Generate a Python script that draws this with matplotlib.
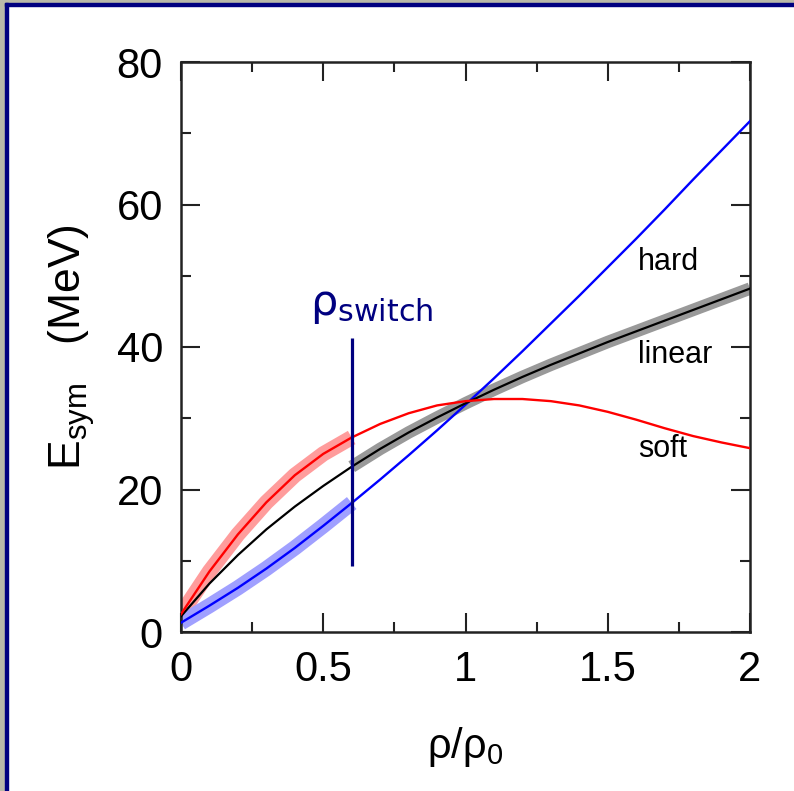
import matplotlib.pyplot as plt
from matplotlib.patches import Rectangle
from matplotlib.ticker import MultipleLocator

plt.rcParams['font.family'] = ['Liberation Sans', 'DejaVu Sans']
plt.rcParams['mathtext.default'] = 'regular'

# symmetry energy vs density for three stiffness choices
rho = [0.0, 0.1, 0.2, 0.3, 0.4, 0.5, 0.6, 0.7, 0.8, 0.9, 1.0,
       1.1, 1.2, 1.3, 1.4, 1.5, 1.6, 1.7, 1.8, 1.9, 2.0]
e_soft = [2.5, 8.5, 13.7, 18.2, 22.0, 25.0, 27.3, 29.2, 30.7, 31.8, 32.4,
          32.7, 32.7, 32.4, 31.8, 30.9, 29.8, 28.6, 27.5, 26.6, 25.8]
e_linear = [2.2, 6.8, 10.8, 14.4, 17.6, 20.5, 23.2, 25.7, 28.0, 30.1, 32.1,
            34.0, 35.8, 37.5, 39.1, 40.7, 42.2, 43.7, 45.2, 46.7, 48.2]
e_hard = [1.3, 3.7, 6.2, 8.9, 11.8, 14.9, 18.1, 21.4, 24.8, 28.3, 31.9,
          35.6, 39.4, 43.3, 47.2, 51.2, 55.2, 59.3, 63.5, 67.6, 71.7]

rho_switch = 0.6
switch_span = (9.3, 41.3)
curve_names = ['hard', 'linear', 'soft']

low = [i for i, r in enumerate(rho) if r <= rho_switch]
high = [i for i, r in enumerate(rho) if r >= rho_switch]

fig = plt.figure(figsize=(7.94, 7.91), dpi=100)

# window frame
fig.patches.append(Rectangle((0, 0), 5 / 794, 1, transform=fig.transFigure,
                             color='#b9b9a9', zorder=0))
fig.patches.append(Rectangle((0, 1 - 3 / 791), 1, 3 / 791, transform=fig.transFigure,
                             color='#b9b9a9', zorder=0))
fig.patches.append(Rectangle((5 / 794, 0), 3 / 794, 1 - 3 / 791, transform=fig.transFigure,
                             color='#000080', zorder=1))
fig.patches.append(Rectangle((5 / 794, 1 - 6 / 791), 1, 3 / 791, transform=fig.transFigure,
                             color='#000080', zorder=1))

ax = fig.add_axes([181 / 794, 159 / 791, 569 / 794, 570 / 791])

# wide bands marking the parts in use
ax.plot([rho[i] for i in low], [e_soft[i] for i in low], color='#ff9c9c',
        lw=11, solid_capstyle='butt', zorder=1)
ax.plot([rho[i] for i in low], [e_hard[i] for i in low], color='#a0a0ff',
        lw=11, solid_capstyle='butt', zorder=1)
ax.plot([rho[i] for i in high], [e_linear[i] for i in high], color='#999999',
        lw=9, solid_capstyle='butt', zorder=1)

ax.plot(rho, e_hard, color='#0000ff', lw=1.7, zorder=3)
ax.plot(rho, e_linear, color='black', lw=1.6, zorder=3)
ax.plot(rho, e_soft, color='#ff0000', lw=1.7, zorder=3)

ax.vlines(rho_switch, *switch_span, color='#000080', lw=2.3, zorder=4)
ax.text(0.455, 44.5, 'ρ$_{switch}$', family='DejaVu Sans', fontsize=31,
        color='#000080', va='baseline', ha='left')

for name, y in zip(curve_names, [50.8, 37.7, 24.6]):
    ax.text(1.607, y, name, fontsize=22, va='baseline', ha='left')

ax.set_xlim(0, 2)
ax.set_ylim(0, 80)
ax.xaxis.set_major_locator(MultipleLocator(0.5))
ax.xaxis.set_minor_locator(MultipleLocator(0.25))
ax.yaxis.set_major_locator(MultipleLocator(20))
ax.yaxis.set_minor_locator(MultipleLocator(10))
ax.set_xticks([0, 0.5, 1, 1.5, 2])
ax.set_xticklabels(['0', '0.5', '1', '1.5', '2'])

ax.tick_params(which='both', direction='in', top=True, right=True,
               width=1.5, color='#222222')
ax.tick_params(which='major', length=14, labelsize=30, pad=13)
ax.tick_params(which='minor', length=7)
for s in ax.spines.values():
    s.set_linewidth(1.8)
    s.set_color('#222222')

ax.set_xlabel('ρ/ρ$_0$', fontsize=30)
ax.set_ylabel('E$_{sym}$   (MeV)', fontsize=32)
ax.xaxis.set_label_coords(0.5, -0.163)
ax.yaxis.set_label_coords(-0.148, 0.5)

fig.savefig('out.png', dpi=100)
